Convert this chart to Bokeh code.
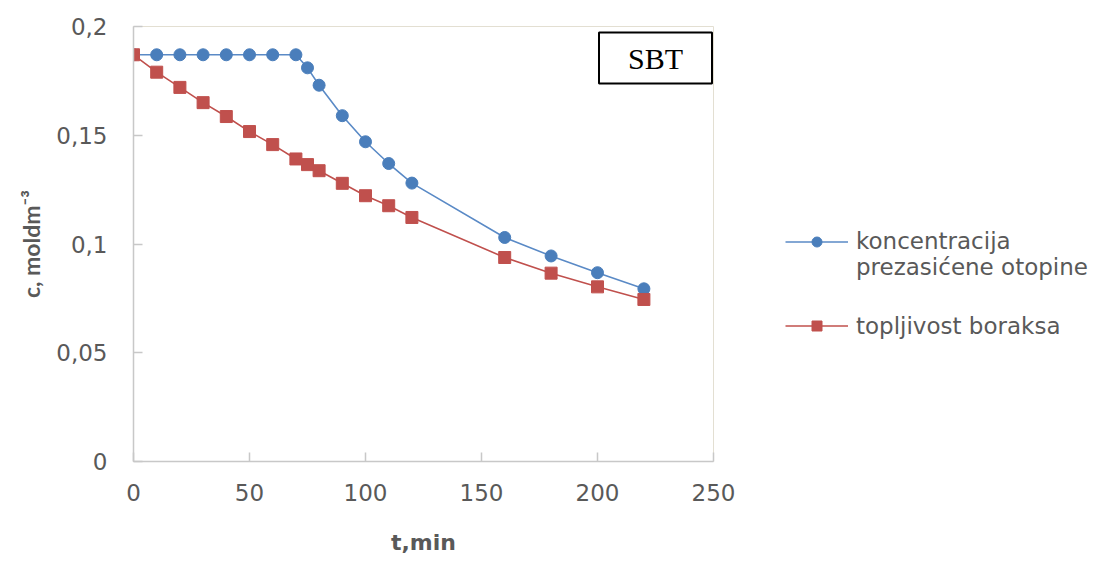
from bokeh.plotting import figure
from bokeh.models import Range1d, FixedTicker, Legend, LegendItem, Label
from bokeh.embed import file_html
from bokeh.resources import INLINE

# ---- data ----
t_min = [0, 10, 20, 30, 40, 50, 60, 70, 75, 80, 90, 100, 110, 120, 160, 180, 200, 220]
konc_prezasicene = [0.187, 0.187, 0.187, 0.187, 0.187, 0.187, 0.187, 0.187, 0.181, 0.173,
                    0.159, 0.147, 0.137, 0.128, 0.103, 0.0945, 0.0868, 0.0794]
topljivost_boraksa = [0.187, 0.179, 0.172, 0.165, 0.1586, 0.1517, 0.1457, 0.1391, 0.1365, 0.1337,
                      0.1279, 0.1222, 0.1176, 0.1122, 0.0938, 0.0866, 0.0803, 0.0745]
x_ticks = [0, 50, 100, 150, 200, 250]
y_ticks = [0, 0.05, 0.1, 0.15, 0.2]
y_tick_labels = ["0", "0,05", "0,1", "0,15", "0,2"]
series_names = ["koncentracija\nprezasićene otopine", "topljivost boraksa"]
x_title = "t,min"
y_title = "c, moldm\u207b\u00b3"

BLUE_LINE = "#5A8AC6"
BLUE = "#4A7EBB"
RED = "#C0504D"
GRAY_TXT = "#595959"
AXIS_COL = "#C8C8C8"
FONT = "DejaVu Sans"

p = figure(frame_width=580, frame_height=435,
           min_border_left=133, min_border_right=386, min_border_top=26, min_border_bottom=99,
           x_range=Range1d(0, 250), y_range=Range1d(0, 0.2),
           output_backend="svg", toolbar_location=None,
           background_fill_color="white", border_fill_color="white")

p.grid.visible = False
p.outline_line_color = "#E3DFD2"
p.outline_line_width = 1

for ax in (p.xaxis[0], p.yaxis[0]):
    ax.axis_line_color = AXIS_COL
    ax.axis_line_width = 1.5
    ax.major_tick_line_color = AXIS_COL
    ax.major_tick_line_width = 1.5
    ax.major_tick_in = 9
    ax.major_tick_out = 0
    ax.minor_tick_line_color = None
    ax.major_label_text_font = FONT
    ax.major_label_text_font_size = "23px"
    ax.major_label_text_color = GRAY_TXT
    ax.axis_label_text_color = GRAY_TXT
    ax.axis_label_text_font_style = "bold"

p.xaxis[0].ticker = FixedTicker(ticks=x_ticks)
p.yaxis[0].ticker = FixedTicker(ticks=y_ticks)
p.yaxis[0].major_label_overrides = {v: s for v, s in zip(y_ticks, y_tick_labels)}
p.xaxis[0].major_label_standoff = 22
p.yaxis[0].major_label_standoff = 26

p.xaxis[0].axis_label = x_title
p.xaxis[0].axis_label_text_font = FONT
p.xaxis[0].axis_label_text_font_size = "22px"
p.xaxis[0].axis_label_standoff = 26
p.yaxis[0].axis_label = y_title
p.yaxis[0].axis_label_text_font = "Lato"
p.yaxis[0].axis_label_text_font_size = "23px"
p.yaxis[0].axis_label_standoff = 8

# ---- series ----
bl = p.line(t_min, konc_prezasicene, line_color=BLUE_LINE, line_width=1.6)
bs = p.scatter(t_min, konc_prezasicene, marker="circle", size=12,
               fill_color=BLUE, line_color=BLUE)
rl = p.line(t_min, topljivost_boraksa, line_color=RED, line_width=1.6)
rs = p.scatter(t_min, topljivost_boraksa, marker="square", size=12,
               fill_color=RED, line_color=RED)

# leading blank line keeps the glyph level with the first text line
legend = Legend(items=[LegendItem(label="\n" + series_names[0], renderers=[bl, bs]),
                       LegendItem(label=series_names[1], renderers=[rl, rs])],
                location=(72, 117), orientation="vertical",
                glyph_width=63, glyph_height=25, label_height=37, spacing=27,
                label_standoff=8, padding=0, margin=0,
                border_line_color=None, background_fill_alpha=0,
                label_text_font=FONT, label_text_font_size="23px",
                label_text_color=GRAY_TXT)
p.add_layout(legend, "right")

# ---- SBT box ----
def px2x(px):
    return (px - 133) / 2.32

def py2y(py):
    return (460.5 - py) / 2172.5

p.add_layout(Label(x=px2x(655), y=py2y(57.5), text="SBT", text_align="center",
                   text_baseline="middle", text_font="Liberation Serif", text_font_size="30px",
                   text_color="black", border_line_color="black", border_line_width=2,
                   background_fill_color="white",
                   padding=dict(left=29, right=29, top=9, bottom=9)))

open("out.html", "w").write(file_html(p, INLINE))
